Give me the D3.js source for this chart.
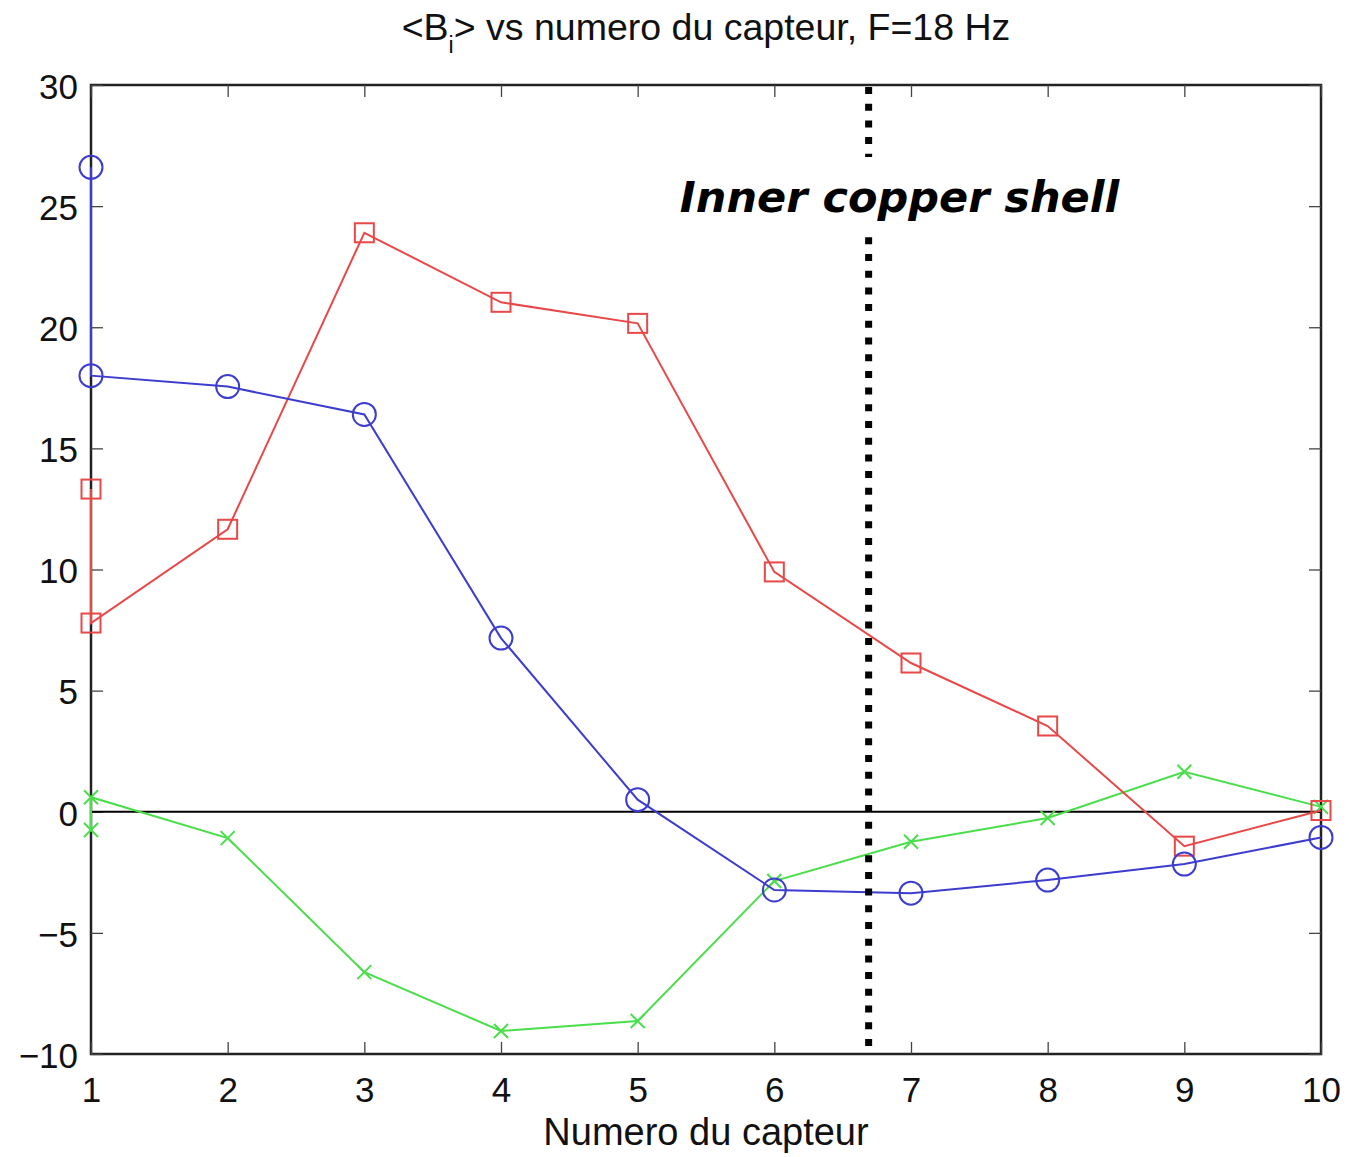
<!DOCTYPE html>
<html>
<head>
<meta charset="utf-8">
<script src="https://cdn.jsdelivr.net/npm/d3@7"></script>
<style>
  html, body { margin: 0; padding: 0; background: #fff; }
  svg { display: block; }
</style>
</head>
<body>
<svg id="chart" width="1349" height="1157"></svg>
<script>
// Sensor numbers (the first sensor was measured twice)
const sensors = [1, 1, 2, 3, 4, 5, 6, 7, 8, 9, 10];

// Mean field component per sensor, F = 18 Hz
const circleSeries = [26.6, 18.0, 17.55, 16.4, 7.17, 0.5, -3.23, -3.36, -2.82, -2.16, -1.06];
const squareSeries = [13.32, 7.79, 11.66, 23.9, 21.03, 20.16, 9.9, 6.14, 3.54, -1.42, 0.05];
const crossSeries  = [-0.75, 0.6, -1.09, -6.62, -9.05, -8.64, -2.86, -1.24, -0.26, 1.65, 0.2];

// Axis ticks
const xTicks = [1, 2, 3, 4, 5, 6, 7, 8, 9, 10];
const yTicks = [-10, -5, 0, 5, 10, 15, 20, 25, 30];
const yTickLabels = ["\u221210", "\u22125", "0", "5", "10", "15", "20", "25", "30"];

// Position of the inner copper shell along the sensor axis
const shellPosition = 6.69;

const svg = d3.select("#chart");
const plotLeft = 91, plotRight = 1321, plotTop = 85, plotBottom = 1054;

const x = d3.scaleLinear().domain([1, 10]).range([plotLeft, plotRight]);
const y = d3.scaleLinear().domain([-10, 30]).range([plotBottom, plotTop]);

const sans = "'Liberation Sans', Arial, Helvetica, sans-serif";

// Title with subscript
const title = svg.append("text")
  .attr("x", (plotLeft + plotRight) / 2)
  .attr("y", 40)
  .attr("text-anchor", "middle")
  .attr("font-family", sans)
  .attr("font-size", 37.5)
  .attr("fill", "#111");
title.append("tspan").text("<B");
title.append("tspan").attr("dy", 13).attr("font-size", 23).text("i");
title.append("tspan").attr("dy", -13).text("> vs numero du capteur, F=18 Hz");

// Axes with inward ticks on all four sides
const tickStyle = g => {
  g.attr("font-family", sans).attr("font-size", 35);
  g.select(".domain").remove();
  g.selectAll(".tick line").attr("stroke", "#444").attr("stroke-width", 1.3);
  g.selectAll(".tick text").attr("fill", "#111");
};

// Plot box (drawn first so curves lying on the frame stay visible)
svg.append("rect")
  .attr("x", plotLeft).attr("y", plotTop)
  .attr("width", plotRight - plotLeft).attr("height", plotBottom - plotTop)
  .attr("fill", "none").attr("stroke", "#222").attr("stroke-width", 2.5);

svg.append("g")
  .attr("transform", `translate(0,${plotBottom})`)
  .call(d3.axisBottom(x).tickValues(xTicks).tickSize(-12).tickPadding(23).tickFormat(d3.format("d")))
  .call(tickStyle);

svg.append("g")
  .attr("transform", `translate(${plotLeft},0)`)
  .call(d3.axisLeft(y).tickValues(yTicks).tickSize(-12).tickPadding(13)
    .tickFormat((d, i) => yTickLabels[i]))
  .call(tickStyle)
  .call(g => g.selectAll(".tick text").attr("dy", "0.38em"));

svg.append("g")
  .attr("transform", `translate(0,${plotTop})`)
  .call(d3.axisTop(x).tickValues(xTicks).tickSize(-12).tickFormat(""))
  .call(tickStyle);

svg.append("g")
  .attr("transform", `translate(${plotRight},0)`)
  .call(d3.axisRight(y).tickValues(yTicks).tickSize(-12).tickFormat(""))
  .call(tickStyle);

// Zero reference line
svg.append("line")
  .attr("x1", x(1)).attr("x2", x(10))
  .attr("y1", y(0)).attr("y2", y(0))
  .attr("stroke", "#000").attr("stroke-width", 2);

// Series
const line = d3.line().x(d => x(d[0])).y(d => y(d[1]));

function series(values, color, marker) {
  const pts = sensors.map((s, i) => [s, values[i]]);
  const g = svg.append("g");
  g.append("path")
    .attr("d", line(pts))
    .attr("fill", "none")
    .attr("stroke", color)
    .attr("stroke-width", 2);
  const m = g.selectAll(".m").data(pts).enter();
  if (marker === "circle") {
    m.append("circle")
      .attr("cx", d => x(d[0])).attr("cy", d => y(d[1])).attr("r", 11.5)
      .attr("fill", "none").attr("stroke", color).attr("stroke-width", 2);
  } else if (marker === "square") {
    m.append("rect")
      .attr("x", d => x(d[0]) - 9.5).attr("y", d => y(d[1]) - 9.5)
      .attr("width", 19).attr("height", 19)
      .attr("fill", "none").attr("stroke", color).attr("stroke-width", 2);
  } else {
    m.append("path")
      .attr("d", d => {
        const cx = x(d[0]), cy = y(d[1]), h = 7;
        return `M${cx - h},${cy - h}L${cx + h},${cy + h}M${cx - h},${cy + h}L${cx + h},${cy - h}`;
      })
      .attr("fill", "none").attr("stroke", color).attr("stroke-width", 2);
  }
}

series(crossSeries, "#4ade4a", "cross");
series(squareSeries, "#e84848", "square");
series(circleSeries, "#3c3ccf", "circle");

// Shell boundary (dotted)
svg.append("line")
  .attr("x1", x(shellPosition)).attr("x2", x(shellPosition))
  .attr("y1", plotTop + 2).attr("y2", plotBottom - 6)
  .attr("stroke", "#000").attr("stroke-width", 7)
  .attr("stroke-dasharray", "7 9.7");

// Annotation with white backing
const note = svg.append("g");
const noteText = note.append("text")
  .attr("x", 899.5).attr("y", 212)
  .attr("text-anchor", "middle")
  .attr("font-family", "'DejaVu Sans', Verdana, sans-serif")
  .attr("font-weight", "bold")
  .attr("font-style", "italic")
  .attr("font-size", 43)
  .attr("fill", "#000")
  .text("Inner copper shell");
const bb = noteText.node().getBBox();
note.insert("rect", "text")
  .attr("x", bb.x - 4).attr("y", 157)
  .attr("width", bb.width + 8).attr("height", 71)
  .attr("fill", "#fff");

// x-axis label
svg.append("text")
  .attr("x", (plotLeft + plotRight) / 2)
  .attr("y", 1145)
  .attr("text-anchor", "middle")
  .attr("font-family", sans)
  .attr("font-size", 38)
  .attr("fill", "#111")
  .text("Numero du capteur");
</script>
</body>
</html>
